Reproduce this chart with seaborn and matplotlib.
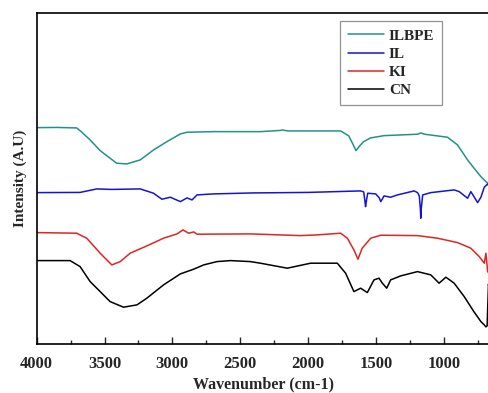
import pandas as pd
import matplotlib.pyplot as plt
import seaborn as sns

# FTIR spectra, values (arbitrary intensity units)
ilbpe_wn = [4000, 3850, 3705, 3680, 3606, 3532, 3459, 3410, 3336, 3237, 3139, 3040, 2941,
            2892, 2696, 2351, 2203, 2190, 2150, 1760, 1747, 1700, 1670, 1647, 1620, 1590,
            1540, 1440, 1193, 1169, 1140, 972, 898, 824, 778, 726, 689, 659]
ilbpe_int = [216.3, 216.5, 216, 213.3, 204, 193.3, 185.7, 180.7, 180, 184, 194, 202.3, 210,
             211.7, 212.3, 212.3, 213.5, 214, 213, 213, 212, 208, 200, 193.3, 198, 202.3,
             206, 208.3, 209.7, 211, 209.7, 206.7, 199, 184, 176, 167.3, 162.3, 159]

il_wn = [4000, 3680, 3557, 3450, 3237, 3139, 3077, 3015, 2941, 2892, 2855, 2818, 2700,
         2400, 2000, 1612, 1590, 1580, 1576, 1570, 1560, 1501, 1475, 1464, 1452, 1440,
         1391, 1341, 1218, 1193, 1180, 1172, 1169, 1165, 1155, 1095, 923, 886, 824, 800,
         750, 726, 701, 676, 659]
il_int = [151.3, 151.5, 155, 154.5, 155, 150.7, 144.7, 146.7, 142.3, 146, 144, 149, 150,
          151, 151.5, 153, 152, 142, 137.3, 143, 150.7, 150, 146, 142.3, 145, 148,
          146.7, 149, 153, 151.3, 148, 135, 125.7, 136, 149, 151.3, 154, 152.3, 145.7, 152.3,
          141.3, 146.7, 156.7, 160, 156]

ki_wn = [4000, 3705, 3631, 3532, 3459, 3446, 3384, 3311, 3188, 3065, 2966, 2922, 2880,
         2843, 2818, 2425, 2055, 1932, 1760, 1710, 1662, 1632, 1601, 1538, 1464, 1193,
         1046, 898, 800, 738, 701, 689, 676, 659]
ki_int = [111.3, 110.7, 105.7, 90.7, 80.7, 79, 82.3, 90.7, 98, 105.7, 110, 114, 110.7,
          112, 109.7, 110, 108.3, 109, 110.7, 105.7, 94, 84.7, 95.7, 105.7, 108.7, 108.3,
          105.7, 101.3, 95.7, 87.3, 80.7, 90.7, 72.3, 69]

cn_wn = [4000, 3754, 3680, 3606, 3532, 3459, 3360, 3261, 3188, 3065, 2941, 2843, 2769,
         2671, 2572, 2425, 2351, 2153, 1981, 1784, 1723, 1662, 1612, 1563, 1514, 1477,
         1452, 1420, 1391, 1317, 1193, 1095, 1034, 984, 923, 849, 778, 726, 701, 689,
         680, 670, 666, 663]
cn_int = [83.3, 83.3, 77.3, 62.3, 52.3, 42.3, 36.7, 39, 45.7, 59, 70, 74.7, 79,
          82.3, 83.3, 82.3, 80.7, 75.7, 80.7, 80.7, 70.7, 52.3, 55.7, 51.3, 64, 65.7,
          60.7, 55.7, 64, 68, 72.3, 69, 60.7, 66.7, 60.7, 47.3, 32.3, 22.3, 19, 17,
          18, 60, 55, -10]

names = ["ILBPE", "IL", "KI", "CN"]
colors = {"ILBPE": "#23918b", "IL": "#1414d2", "KI": "#e02424", "CN": "#000000"}

frames = []
for name, wn, inten in [("ILBPE", ilbpe_wn, ilbpe_int), ("IL", il_wn, il_int),
                        ("KI", ki_wn, ki_int), ("CN", cn_wn, cn_int)]:
    frames.append(pd.DataFrame({"wn": wn, "intensity": inten, "sample": name}))
df = pd.concat(frames, ignore_index=True)

sns.set_style("white")
plt.rcParams["font.family"] = ["Liberation Serif", "DejaVu Serif"]
plt.rcParams["font.weight"] = "bold"

fig = plt.figure(figsize=(4.89, 3.93), dpi=100)
ax = fig.add_axes([0.075, 0.125, 0.927, 0.842])

sns.lineplot(data=df, x="wn", y="intensity", hue="sample", hue_order=names,
             palette=colors, estimator=None, sort=False, linewidth=1.1, ax=ax)

ax.set_xlim(4000, 659)
ax.set_ylim(0, 331)
ax.set_xticks([4000, 3500, 3000, 2500, 2000, 1500, 1000])
ax.set_xticks(range(750, 4000, 500), minor=True)
ax.set_yticks([])
ax.tick_params(axis="x", which="both", direction="in", bottom=True, top=False,
               labelsize=12, pad=9)
ax.tick_params(axis="x", which="major", length=5, width=1)
ax.tick_params(axis="x", which="minor", length=3, width=1)
for lab in ax.get_xticklabels():
    lab.set_fontweight("bold")
for sp in ax.spines.values():
    sp.set_color("black")
    sp.set_linewidth(1.2)

ax.set_xlabel("Wavenumber (cm-1)", fontsize=11.5, fontweight="bold", labelpad=3)
ax.set_ylabel("Intensity (A.U)", fontsize=11, fontweight="bold", labelpad=7)

leg = ax.legend(loc="upper left", bbox_to_anchor=(0.669, 0.975), borderaxespad=0,
                frameon=True, fancybox=False, edgecolor="#777777", fontsize=11,
                handlelength=2.4, handletextpad=0.3, borderpad=0.5, labelspacing=0.3)
leg.get_frame().set_linewidth(0.9)
for t in leg.get_texts():
    t.set_fontweight("bold")

fig.savefig("out.png", dpi=100)
